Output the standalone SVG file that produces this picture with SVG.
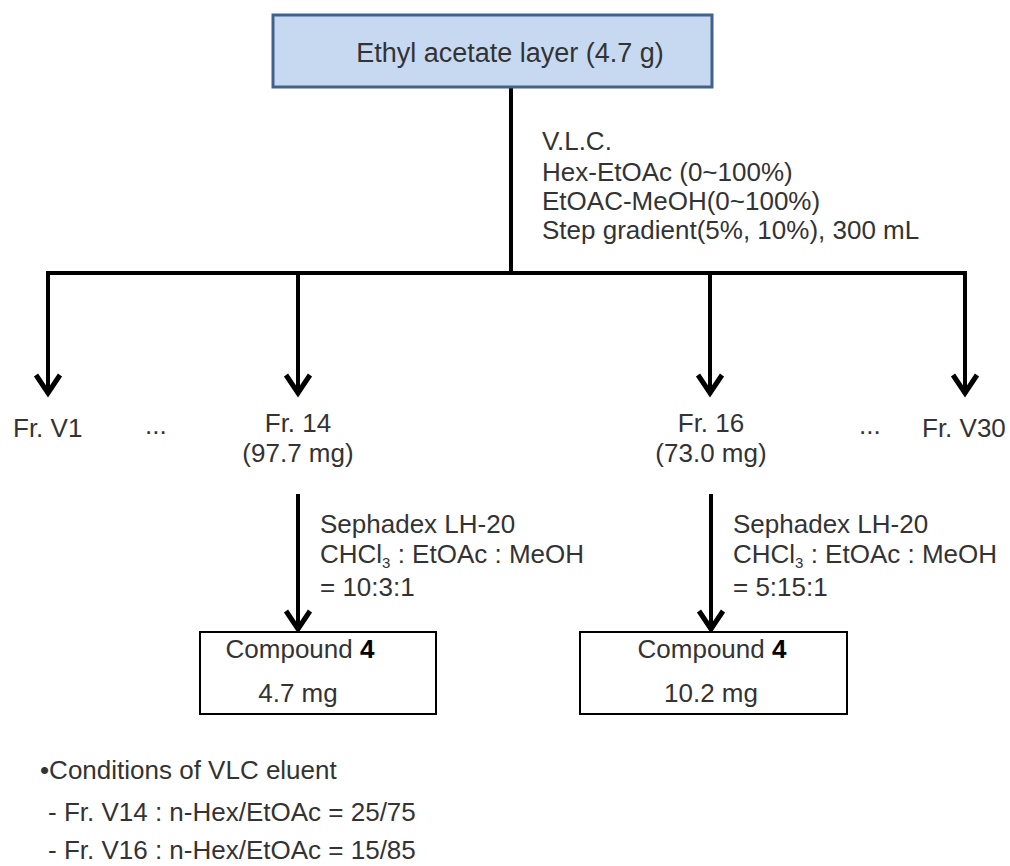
<svg xmlns="http://www.w3.org/2000/svg" width="1010" height="866" viewBox="0 0 1010 866">
<style>
  text { font-family: "Liberation Sans", "DejaVu Sans", sans-serif; font-size: 26px; fill: #333333; }
  .c { text-anchor: middle; }
  .b { font-weight: bold; fill: #000000; }
  .sub { font-size: 15px; }
  .ln { stroke: #000000; stroke-width: 4; fill: none; }
  .hd { stroke: #000000; stroke-width: 5; fill: none; stroke-linejoin: miter; }
  .box { fill: #ffffff; stroke: #000000; stroke-width: 2; }
</style>
<rect width="1010" height="866" fill="#ffffff"/>

<g id="connectors">
  <path class="ln" d="M511,87 V273"/>
  <path class="ln" d="M46,273 H967"/>
  <path class="ln" d="M48,273 V394"/>
  <path class="hd" d="M36,375 L48,393 L60,375"/>
  <path class="ln" d="M298,273 V394"/>
  <path class="hd" d="M286,375 L298,393 L310,375"/>
  <path class="ln" d="M710,273 V394"/>
  <path class="hd" d="M698,375 L710,393 L722,375"/>
  <path class="ln" d="M965,273 V394"/>
  <path class="hd" d="M953,375 L965,393 L977,375"/>
  <path class="ln" d="M298,494 V629"/>
  <path class="hd" d="M286,611 L298,629 L310,611"/>
  <path class="ln" d="M711,494 V629"/>
  <path class="hd" d="M699,611 L711,629 L723,611"/>
</g>

<g id="top">
  <rect x="273" y="15" width="439" height="72" fill="#c6d9f1" stroke="#41628c" stroke-width="3"/>
  <text class="c" x="510" y="62" style="font-size:27px">Ethyl acetate layer (4.7 g)</text>
</g>

<g id="vlc-label">
  <text x="542" y="150">V.L.C.</text>
  <text x="542" y="181">Hex-EtOAc (0~100%)</text>
  <text x="542" y="210">EtOAC-MeOH(0~100%)</text>
  <text x="542" y="239">Step gradient(5%, 10%), 300 mL</text>
</g>

<g id="fr-v1"><text x="13" y="437">Fr. V1</text></g>
<g id="dots1"><text x="145" y="434">...</text></g>
<g id="fr-14">
  <text class="c" x="298" y="432">Fr. 14</text>
  <text class="c" x="298" y="462">(97.7 mg)</text>
</g>
<g id="fr-16">
  <text class="c" x="711" y="432">Fr. 16</text>
  <text class="c" x="711" y="462">(73.0 mg)</text>
</g>
<g id="dots2"><text x="859" y="434">...</text></g>
<g id="fr-v30"><text x="922" y="437">Fr. V30</text></g>

<g id="seph-left">
  <text x="320" y="533">Sephadex LH-20</text>
  <text x="320" y="563">CHCl<tspan class="sub" dy="5">3</tspan><tspan dy="-5"> : EtOAc : MeOH</tspan></text>
  <text x="320" y="596">= 10:3:1</text>
</g>
<g id="seph-right">
  <text x="733" y="533">Sephadex LH-20</text>
  <text x="733" y="563">CHCl<tspan class="sub" dy="5">3</tspan><tspan dy="-5"> : EtOAc : MeOH</tspan></text>
  <text x="733" y="596">= 5:15:1</text>
</g>

<g id="compound-left">
  <rect class="box" x="200" y="632" width="236" height="82"/>
  <text class="c" x="300" y="658">Compound <tspan class="b">4</tspan></text>
  <text class="c" x="298" y="702">4.7 mg</text>
</g>
<g id="compound-right">
  <rect class="box" x="580" y="632" width="267" height="82"/>
  <text class="c" x="712" y="658">Compound <tspan class="b">4</tspan></text>
  <text class="c" x="711" y="702">10.2 mg</text>
</g>

<g id="notes">
  <text x="40" y="779">•Conditions of VLC eluent</text>
  <text x="48" y="821"> - Fr. V14 : n-Hex/EtOAc = 25/75</text>
  <text x="48" y="859"> - Fr. V16 : n-Hex/EtOAc = 15/85</text>
</g>
</svg>
